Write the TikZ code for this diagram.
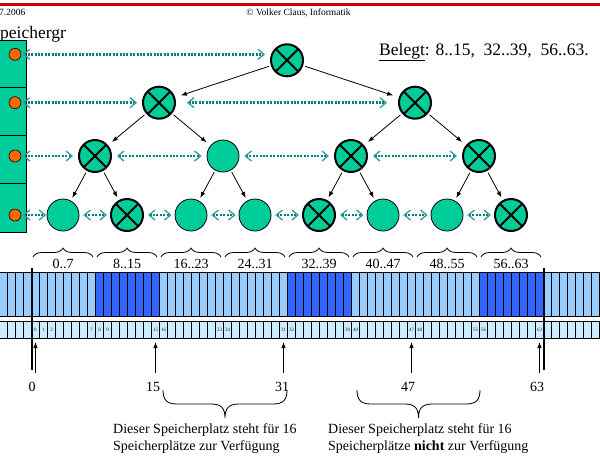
\documentclass[tikz,border=0pt]{standalone}
\usepackage{fontspec}
\setmainfont{Liberation Serif}
\usetikzlibrary{arrows.meta,decorations.pathreplacing}
\definecolor{nodegreen}{RGB}{0,204,153}
\definecolor{dotteal}{RGB}{0,128,128}
\definecolor{headteal}{RGB}{51,153,153}
\definecolor{lightblue}{RGB}{153,204,255}
\definecolor{darkblue}{RGB}{51,102,255}
\definecolor{paleblue}{RGB}{204,236,255}
\definecolor{orangec}{RGB}{255,102,0}
\definecolor{redline}{RGB}{204,0,0}
\tikzset{
  barb/.tip={Straight Barb[length=6pt,width=10pt,line width=1.3pt,color=headteal]},
  tnode/.style={circle,fill=nodegreen,draw=black,line width=0.8pt,minimum size=32pt,inner sep=0pt},
  xnode/.style={tnode,line width=2pt,path picture={\draw[line width=2pt] (path picture bounding box.north west)--(path picture bounding box.south east) (path picture bounding box.north east)--(path picture bounding box.south west);}},
  orangedot/.style={circle,fill=orangec,draw=black,line width=0.6pt,minimum size=12pt,inner sep=0pt},
  treearrow/.style={-{Latex[length=6pt,width=4.5pt]},line width=0.8pt,shorten <=2pt,shorten >=3pt},
  dots/.style={draw=dotteal,line width=2.8pt,dash pattern=on 2pt off 1.4pt,arrows=barb-barb,shorten <=5pt,shorten >=5pt},
  cellline/.style={line width=0.8pt,black},
  bigtxt/.style={font=\fontsize{14}{17}\selectfont,inner sep=0pt},
  idx/.style={font=\fontsize{5}{5}\selectfont,text=black!85,inner sep=0pt},
  uparrow/.style={-{Latex[length=6pt,width=4.5pt]},line width=0.8pt}
}
\begin{document}
\begin{tikzpicture}[x=1pt,y=-1pt]
\useasboundingbox (0,0) rectangle (600,456);
% header
\draw[redline,line width=2.5pt] (0,4.3) -- (600,4.3);
\node[anchor=base east,font=\fontsize{9.5}{11}\selectfont,inner sep=0pt] (date) at (25.5,15) {7.2006};
\node[anchor=base,font=\fontsize{9.5}{11}\selectfont,inner sep=0pt] (copy) at (298.5,15) {© Volker Claus, Informatik};
\node[anchor=base west,font=\fontsize{17.5}{20}\selectfont,inner sep=0pt] (title) at (0,38) {peichergr};
\node[anchor=base west,font=\fontsize{17.5}{20}\selectfont,inner sep=0pt] (belegt) at (379,55) {\underline{Belegt}: 8..15,\ \ 32..39,\ \ 56..63.};
% left column
\draw[fill=nodegreen,line width=0.8pt] (-2,40) rectangle (26,232);
\draw[line width=0.8pt] (-2,87) -- (26,87) (-2,135) -- (26,135) (-2,183) -- (26,183);
\node[orangedot] (o1) at (15,54.3) {};
\node[orangedot] (o2) at (15,102.7) {};
\node[orangedot] (o3) at (15,156) {};
\node[orangedot] (o4) at (15,215) {};
% tree
\node[xnode] (root) at (287,60.3) {};
\node[xnode] (r2a) at (159,102.7) {};
\node[xnode] (r2b) at (415,102.7) {};
\node[xnode] (r3a) at (95,156) {};
\node[tnode] (r3b) at (223,156) {};
\node[xnode] (r3c) at (351,156) {};
\node[xnode] (r3d) at (479,156) {};
\node[tnode] (l0) at (63,215) {};
\node[xnode] (l1) at (127,215) {};
\node[tnode] (l2) at (191,215) {};
\node[tnode] (l3) at (255,215) {};
\node[xnode] (l4) at (319,215) {};
\node[tnode] (l5) at (383,215) {};
\node[tnode] (l6) at (447,215) {};
\node[xnode] (l7) at (511,215) {};
\draw[treearrow,shorten >=6pt] (root) -- (r2a);
\draw[treearrow,shorten >=6pt] (root) -- (r2b);
\draw[treearrow,shorten >=5pt] (r2a) -- (r3a);
\draw[treearrow,shorten >=5pt] (r2a) -- (r3b);
\draw[treearrow,shorten >=5pt] (r2b) -- (r3c);
\draw[treearrow,shorten >=5pt] (r2b) -- (r3d);
\draw[treearrow] (r3a) -- (l0);
\draw[treearrow] (r3a) -- (l1);
\draw[treearrow] (r3b) -- (l2);
\draw[treearrow] (r3b) -- (l3);
\draw[treearrow] (r3c) -- (l4);
\draw[treearrow] (r3c) -- (l5);
\draw[treearrow] (r3d) -- (l6);
\draw[treearrow] (r3d) -- (l7);
% dotted double arrows
\draw[dots,shorten <=1.5pt] (o1.east) -- (o1 -| root.west);
\draw[dots,shorten <=1.5pt] (o2.east) -- (r2a.west);
\draw[dots,shorten <=11pt,shorten >=11pt] (r2a.east) -- (r2b.west);
\draw[dots,shorten <=1.5pt] (o3.east) -- (r3a.west);
\draw[dots] (r3a.east) -- (r3b.west);
\draw[dots] (r3b.east) -- (r3c.west);
\draw[dots] (r3c.east) -- (r3d.west);
\draw[dots,shorten <=1.5pt,shorten >=0.5pt] (o4.east) -- (l0.west);
\draw[dots,shorten <=4pt,shorten >=3pt] (l0.east) -- (l1.west);
\draw[dots,shorten <=4pt,shorten >=3pt] (l1.east) -- (l2.west);
\draw[dots,shorten <=4pt,shorten >=3pt] (l2.east) -- (l3.west);
\draw[dots,shorten <=4pt,shorten >=3pt] (l3.east) -- (l4.west);
\draw[dots,shorten <=4pt,shorten >=3pt] (l4.east) -- (l5.west);
\draw[dots,shorten <=4pt,shorten >=3pt] (l5.east) -- (l6.west);
\draw[dots,shorten <=4pt,shorten >=3pt] (l6.east) -- (l7.west);
% upper braces with ranges
\foreach \c/\t in {63/0..7,127/8..15,191/16..23,255/24..31,319/32..39,383/40..47,447/48..55,511/56..63}{
  \draw[line width=0.8pt,decorate,decoration={brace,amplitude=9pt}] (\c-30,257) -- (\c+30,257);
  \node[bigtxt] at (\c,263.5) {\t};
}
% memory bar (top)
\fill[lightblue] (-0.5,272) rectangle (599.5,316.5);
\fill[darkblue] (95.5,272) rectangle (159.5,316.5);
\fill[darkblue] (287.5,272) rectangle (351.5,316.5);
\fill[darkblue] (479.5,272) rectangle (543.5,316.5);
\draw[cellline] (-0.5,272) -- (599.5,272) (-0.5,316.5) -- (599.5,316.5);
\foreach \i in {-4,...,71}{
  \draw[cellline] (31.5+8*\i,272) -- (31.5+8*\i,316.5);
}
% index bar (bottom)
\fill[paleblue] (-0.5,321) rectangle (599.5,338.5);
\draw[cellline] (-0.5,321) -- (599.5,321) (-0.5,338.5) -- (599.5,338.5);
\foreach \i in {-4,...,71}{
  \draw[cellline] (31.5+8*\i,321) -- (31.5+8*\i,338.5);
}
\foreach \i in {0,1,2,7,8,9,15,16,23,24,31,32,39,40,47,48,55,56,63}{
  \node[idx] at (35.5+8*\i,329.7) {\i};
}
% thick boundary lines
\draw[line width=2pt] (31.5,268) -- (31.5,370);
\draw[line width=2pt] (543.5,268) -- (543.5,370);
% pointer arrows and labels
\foreach \n/\x/\lx in {0/35.5/32,15/155.5/153,31/283.5/282,47/411.5/408,63/539.5/537}{
  \coordinate (tail\n) at (\x,373);
  \coordinate (tip\n) at (\x,342);
  \draw[uparrow] (tail\n) -- (tip\n);
  \node[bigtxt] (lab\n) at (\lx,387) {\n};
}
% lower braces
\draw[line width=0.8pt] (163,390) .. controls (163,400) and (167,404) .. (177,404) -- (211,404) .. controls (221,404) and (225,408) .. (225,418) .. controls (225,408) and (229,404) .. (239,404) -- (273,404) .. controls (283,404) and (287,400) .. (287,390);
\draw[line width=0.8pt] (357,390) .. controls (357,400) and (361,404) .. (371,404) -- (404.5,404) .. controls (414.5,404) and (418.5,408) .. (418.5,418) .. controls (418.5,408) and (422.5,404) .. (432.5,404) -- (466,404) .. controls (476,404) and (480,400) .. (480,390);
% captions
\node[bigtxt,anchor=base west] (c1a) at (113,433) {Dieser Speicherplatz steht für 16};
\node[bigtxt,anchor=base west] (c1b) at (113,450) {Speicherplätze zur Verfügung};
\node[bigtxt,anchor=base west] (c2a) at (328,433) {Dieser Speicherplatz steht für 16};
\node[bigtxt,anchor=base west] (c2b) at (328,450) {Speicherplätze \textbf{nicht} zur Verfügung};
\end{tikzpicture}
\end{document}
